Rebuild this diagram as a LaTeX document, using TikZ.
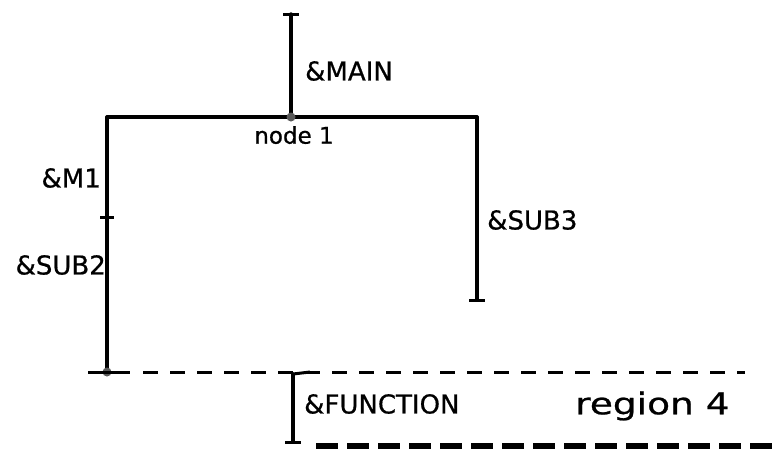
\documentclass[tikz,border=0pt]{standalone}
\usepackage{fontspec}
\setmainfont{DejaVu Sans}
\newfontfamily\handfont{DejaVu Sans}[FakeBold=0.7]
\begin{document}
\begin{tikzpicture}[x=1pt,y=-1pt,
  wire/.style={line width=3.4pt,line cap=round},
  endtick/.style={line width=3pt},
  lbl/.style={font=\handfont\fontsize{26}{26}\selectfont,inner sep=0pt},
  small/.style={font=\handfont\fontsize{23}{23}\selectfont,inner sep=0pt},
  divider/.style={line width=3pt,dash pattern=on 15pt off 12pt},
  strip/.style={line width=6pt,dash pattern=on 22pt off 9pt}]
\useasboundingbox (0,0) rectangle (778,448);
% tree points
\coordinate (top) at (291,14);
\coordinate (n1) at (291,117);
\coordinate (lc) at (107,117);
\coordinate (rc) at (477,117);
\coordinate (mid) at (107,217);
\coordinate (lb) at (107,372);
\coordinate (rb) at (477,300);
\coordinate (ft) at (293,374);
\coordinate (fb) at (293,442);
\coordinate (dl) at (88,372);
\coordinate (dr) at (745,372);
% main trunk and branches
\draw[wire] (top) -- (n1);
\draw[wire] (lc) -- (rc);
\draw[wire] (lc) -- (lb);
\draw[wire] (rc) -- (rb);
\draw[wire] (ft) -- (fb);
% end ticks
\draw[endtick] ([xshift=-8pt]top) -- ([xshift=8pt]top);
\draw[endtick] ([xshift=-7pt]mid) -- ([xshift=7pt]mid);
\draw[endtick] ([xshift=-8pt]rb) -- ([xshift=8pt]rb);
\draw[endtick] ([xshift=-8pt]fb) -- ([xshift=8pt]fb);
\fill[gray!70!black] (n1) circle (4.5pt);
\fill[gray!70!black] (lb) circle (4.5pt);
% dashed region boundary
\draw[line width=3pt] (dl) -- (130,372);
\draw[divider] (143,372) -- (dr);
\draw[line width=3pt] (ft) -- (310,372);
% lower strip
\path (300,446) coordinate (sl) (778,446) coordinate (sr);
\begin{scope}
\clip (0,0) rectangle (778,448);
\draw[strip] ([xshift=16pt]sl) -- ([xshift=20pt]sr);
\end{scope}
% labels
\node[lbl,anchor=west] (lmain) at (305,71) {\&MAIN};
\node[small,anchor=north] (lnode) at (294,126) {node 1};
\node[lbl,anchor=east] (lm1) at (101,178) {\&M1};
\node[lbl,anchor=east] (lsub2) at (106,265) {\&SUB2};
\node[lbl,anchor=west] (lsub3) at (487,220) {\&SUB3};
\node[lbl,anchor=west] (lfun) at (304,404) {\&FUNCTION};
\node[lbl,anchor=west,font=\handfont\fontsize{30}{30}\selectfont] (lreg) at (575,406) {\scalebox{1.25}[1]{region 4}};
\end{tikzpicture}
\end{document}
